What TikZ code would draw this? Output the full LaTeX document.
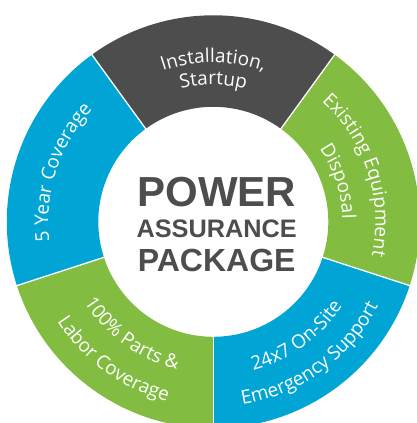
\documentclass[tikz,border=0pt]{standalone}
\usepackage{fontspec}
\setmainfont{Open Sans}
\newfontfamily\titlefont{Liberation Sans}
\usetikzlibrary{decorations.text}

\definecolor{ringgray}{RGB}{77,77,77}
\definecolor{ringgreen}{RGB}{130,189,65}
\definecolor{ringblue}{RGB}{0,165,214}

\newcommand{\ringfont}{\fontsize{19}{22}\selectfont\color{white}}

\tikzset{
  divider/.style={draw=white, line width=1.3pt},
  ringtext/.style={decorate, decoration={text along path, text align=center,
      text={|\ringfont|#1}}},
  title/.style={text=ringgray, anchor=base, inner sep=0pt}
}

\begin{document}
\begin{tikzpicture}[x=1pt,y=1pt]
    \clip (-213.3,-201.2) rectangle (203.7,221.8);

    %%%%%%%%%% Settori %%%%%%%%%%
    \foreach \a/\c in {-90/ringblue, -18/ringgreen, 54/ringgray, 126/ringblue, 198/ringgreen}
      \fill[\c] (\a:206.5) arc[start angle=\a, delta angle=72, radius=206.5]
        -- (\a+72:115) arc[start angle=\a+72, delta angle=-72, radius=115] -- cycle;
    \foreach \a in {-90,-18,54,126,198}
      \draw[divider] (\a:114) -- (\a:208);

    %%%%%%%%%% Testi sul bordo %%%%%%%%%%
    \path[ringtext={Installation,}] (126:159) arc[start angle=126, end angle=54, radius=159];
    \path[ringtext={Startup}] (126:137) arc[start angle=126, end angle=54, radius=137];
    \path[ringtext={Existing Equipment}] (54:162) arc[start angle=54, end angle=-18, radius=162];
    \path[ringtext={Disposal}] (54:129) arc[start angle=54, end angle=-18, radius=129];
    \path[ringtext={24x7 On-Site}] (-90:154) arc[start angle=-90, end angle=-18, radius=154];
    \path[ringtext={Emergency Support}] (-90:185) arc[start angle=-90, end angle=-18, radius=185];
    \path[ringtext={100{\%} Parts {\&}}] (198:152) arc[start angle=198, end angle=270, radius=152];
    \path[ringtext={Labor Coverage}] (198:185) arc[start angle=198, end angle=270, radius=185];
    \path[ringtext={5 Year Coverage}] (198:165) arc[start angle=198, end angle=126, radius=165];

    %%%%%%%%%% Centro %%%%%%%%%%
    \node[title, font=\titlefont\bfseries\fontsize{42}{42}\selectfont] (power) at (3.4,15.1) {POWER};
    \node[title, font=\titlefont\bfseries\fontsize{25.3}{26}\selectfont] (assurance) at (3.4,-15.5) {ASSURANCE};
    \node[title, font=\titlefont\bfseries\fontsize{32}{32}\selectfont] (package) at (3.4,-49.9) {PACKAGE};
\end{tikzpicture}
\end{document}
